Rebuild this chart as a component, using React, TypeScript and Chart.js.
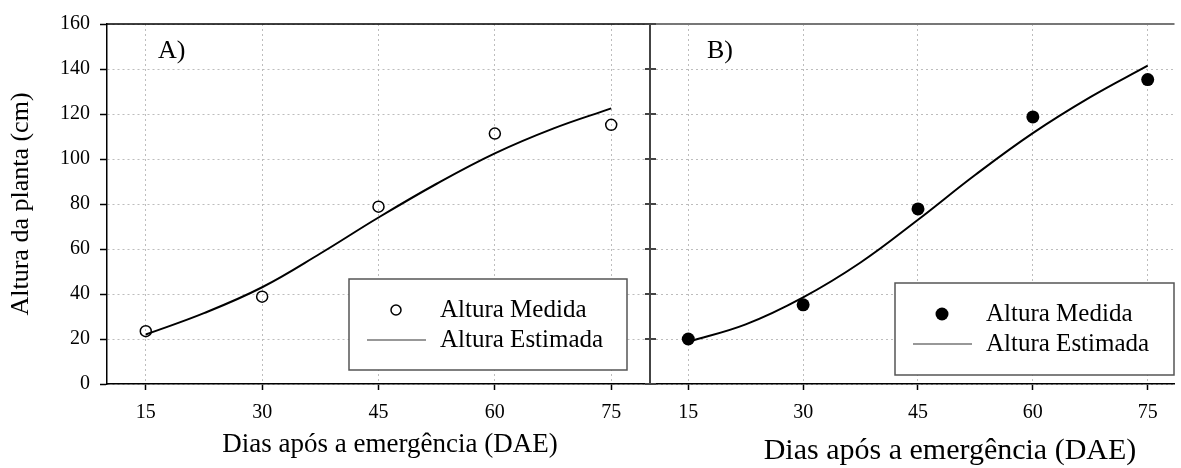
import { useEffect, useRef } from 'react';
import { Chart, registerables } from 'chart.js';

Chart.register(...registerables);

// ---- data ----
const dayTicks = [15, 30, 45, 60, 75];
const measuredDays = [15, 30, 45, 60, 75];
const measuredA = [23.5, 38.8, 78.8, 111.3, 115.2];
const measuredB = [20.0, 35.2, 77.8, 118.7, 135.3];
const fitDays = [15, 22.5, 30, 37.5, 45, 52.5, 60, 67.5, 75];
const fittedA = [22.0, 31.5, 43.0, 58.0, 74.0, 89.0, 102.5, 113.5, 122.5];
const fittedB = [18.8, 26.5, 38.5, 54.0, 73.0, 93.0, 111.5, 127.5, 141.5];
const legendLabels = ['Altura Medida', 'Altura Estimada'];
const xTitle = 'Dias após a emergência (DAE)';
const yTitle = 'Altura da planta (cm)';

const SERIF = "'Liberation Serif', 'Times New Roman', serif";

const decorPlugin = {
  id: 'panelDecor',
  afterDraw(chart: any, _args: any, o: any) {
    const { ctx, chartArea: a, scales } = chart;
    ctx.save();
    // top border
    ctx.setLineDash([]);
    ctx.strokeStyle = o.topColor;
    ctx.lineWidth = o.topWidth;
    ctx.beginPath();
    ctx.moveTo(a.left, a.top);
    ctx.lineTo(a.right, a.top);
    ctx.stroke();
    // crossing ticks on shared axis
    if (o.innerTicks) {
      const ys = scales.y;
      ctx.strokeStyle = '#444';
      ctx.lineWidth = 2;
      ys.ticks.forEach((t: any) => {
        const py = ys.getPixelForValue(t.value);
        ctx.beginPath();
        ctx.moveTo(a.left - 5, py);
        ctx.lineTo(a.left + 6, py);
        ctx.stroke();
      });
    }
    // panel label
    ctx.fillStyle = '#000';
    ctx.font = `26px ${SERIF}`;
    ctx.textAlign = 'left';
    ctx.textBaseline = 'middle';
    ctx.fillText(o.label, a.left + o.labelDx, 51);
    // legend
    const bx = o.box[0], by = o.box[1], bw = o.box[2], bh = o.box[3];
    ctx.fillStyle = '#fff';
    ctx.fillRect(bx, by, bw, bh);
    ctx.strokeStyle = '#555';
    ctx.lineWidth = 1.5;
    ctx.strokeRect(bx, by, bw, bh);
    const r1 = by + 31, r2 = by + 61;
    ctx.beginPath();
    ctx.arc(bx + 47, r1, o.filled ? 6.5 : 5, 0, Math.PI * 2);
    if (o.filled) {
      ctx.fillStyle = '#000';
      ctx.fill();
    } else {
      ctx.strokeStyle = '#000';
      ctx.lineWidth = 1.5;
      ctx.stroke();
    }
    ctx.strokeStyle = '#333';
    ctx.lineWidth = 1.2;
    ctx.beginPath();
    ctx.moveTo(bx + 18, r2);
    ctx.lineTo(bx + 77, r2);
    ctx.stroke();
    ctx.fillStyle = '#000';
    ctx.font = `25px ${SERIF}`;
    ctx.textAlign = 'left';
    ctx.textBaseline = 'middle';
    ctx.fillText(legendLabels[0], bx + 91, r1);
    ctx.fillText(legendLabels[1], bx + 91, r2);
    // x title
    ctx.font = `${o.xTitleSize}px ${SERIF}`;
    ctx.textAlign = 'center';
    ctx.textBaseline = 'alphabetic';
    ctx.fillText(xTitle, o.xTitleX, o.xTitleY);
    ctx.restore();
  },
};

function makeConfig(panel: 'A' | 'B'): any {
  const isA = panel === 'A';
  const measured = isA ? measuredA : measuredB;
  const fitted = isA ? fittedA : fittedB;
  return {
    type: 'scatter',
    data: {
      datasets: [
        {
          type: 'line',
          data: fitDays.map((d, i) => ({ x: d, y: fitted[i] })),
          borderColor: '#000',
          borderWidth: 2,
          pointRadius: 0,
          tension: 0.4,
          fill: false,
          order: 2,
        },
        {
          type: 'scatter',
          data: measuredDays.map((d, i) => ({ x: d, y: measured[i] })),
          pointRadius: isA ? 5.5 : 6.5,
          pointBorderWidth: isA ? 1.5 : 0,
          pointBorderColor: '#000',
          pointBackgroundColor: isA ? 'rgba(255,255,255,0)' : '#000',
          order: 1,
        },
      ],
    },
    options: {
      animation: false,
      responsive: false,
      events: [],
      layout: { padding: { left: 0, right: isA ? 10 : 0, top: 24, bottom: 0 } },
      plugins: {
        legend: { display: false },
        tooltip: { enabled: false },
        panelDecor: isA
          ? { label: 'A)', labelDx: 51, topColor: '#000', topWidth: 1.5, innerTicks: false, box: [349, 279, 278, 91], filled: false, xTitleX: 390, xTitleY: 452, xTitleSize: 27 }
          : { label: 'B)', labelDx: 57, topColor: '#777', topWidth: 2, innerTicks: true, box: [255, 283, 279, 92], filled: true, xTitleX: 310, xTitleY: 459, xTitleSize: 30 },
      },
      scales: {
        x: {
          type: 'linear',
          min: 10,
          max: isA ? 80 : 78.5,
          afterBuildTicks: (s: any) => {
            s.ticks = dayTicks.map((v) => ({ value: v }));
          },
          afterFit: (s: any) => {
            s.height = 84;
          },
          ticks: { font: { family: SERIF, size: 20 }, color: '#000', padding: 11 },
          grid: {
            color: '#bdbdbd',
            lineWidth: 1,
            tickLength: 6,
            tickColor: '#000',
            tickWidth: 1.5,
            tickBorderDash: [],
          },
          border: { color: '#000', width: 1.5, dash: [2, 3] },
        },
        y: {
          type: 'linear',
          min: 0,
          max: 160,
          afterFit: (s: any) => {
            s.width = isA ? 107 : 10;
          },
          ticks: { stepSize: 20, display: isA, font: { family: SERIF, size: 20 }, color: '#000', padding: 10 },
          title: isA
            ? { display: true, text: yTitle, font: { family: SERIF, size: 26 }, color: '#000', padding: { top: 6, bottom: 0 } }
            : { display: false },
          grid: {
            color: '#bdbdbd',
            lineWidth: 1,
            drawTicks: isA,
            tickLength: 7,
            tickColor: '#000',
            tickWidth: 1.5,
            tickBorderDash: [],
          },
          border: { color: isA ? '#000' : '#444', width: isA ? 1.5 : 2, dash: [2, 3] },
        },
      },
    },
    plugins: [decorPlugin],
  };
}

export default function App() {
  const leftRef = useRef<HTMLCanvasElement>(null);
  const rightRef = useRef<HTMLCanvasElement>(null);
  useEffect(() => {
    const c1 = new Chart(leftRef.current as HTMLCanvasElement, makeConfig('A'));
    const c2 = new Chart(rightRef.current as HTMLCanvasElement, makeConfig('B'));
    return () => {
      c1.destroy();
      c2.destroy();
    };
  }, []);
  return (
    <div style={{ position: 'fixed', left: 0, top: 0, width: 1181, height: 468, background: '#fff', overflow: 'hidden' }}>
      <canvas ref={leftRef} width={660} height={468} style={{ position: 'absolute', left: 0, top: 0 }} />
      <canvas ref={rightRef} width={541} height={468} style={{ position: 'absolute', left: 640, top: 0 }} />
    </div>
  );
}
